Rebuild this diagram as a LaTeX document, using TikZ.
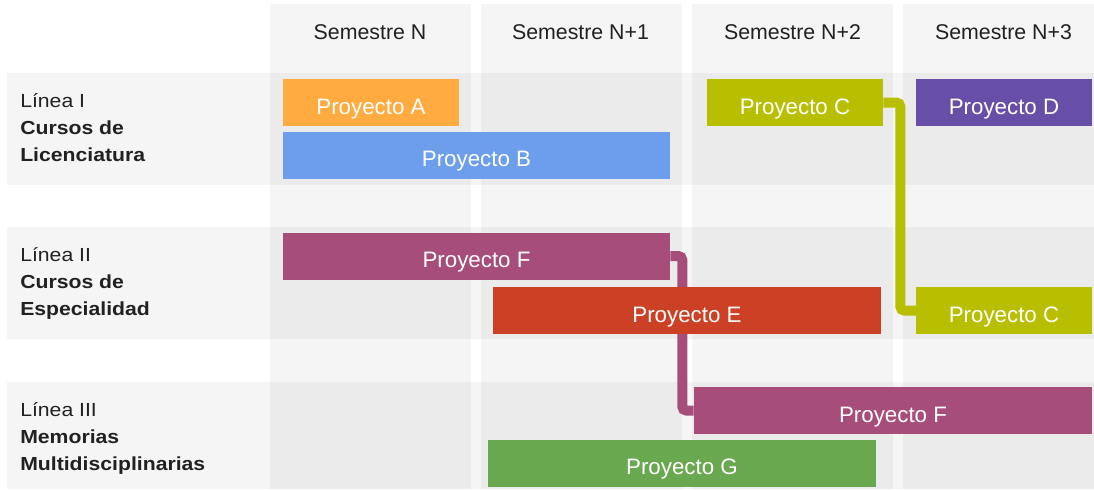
\documentclass[tikz,border=0pt]{standalone}
\usepackage{fontspec}
\setmainfont{Liberation Sans}
\newfontfamily\lineafont[FakeStretch=1.12]{Liberation Sans}
\usepackage{xcolor}
\usetikzlibrary{backgrounds, positioning}

\definecolor{projA}{HTML}{FFAB40}
\definecolor{projB}{HTML}{6D9EEB}
\definecolor{projC}{HTML}{B7BF00}
\definecolor{projD}{HTML}{674EA7}
\definecolor{projE}{HTML}{CC4125}
\definecolor{projF}{HTML}{A64D79}
\definecolor{projG}{HTML}{6AA84F}
\definecolor{inktext}{HTML}{212121}

\tikzset{
  bgband/.style={fill=black, fill opacity=0.04},
  head/.style={anchor=base, text=inktext, font=\fontsize{16}{19}\selectfont},
  linea/.style={anchor=base west, align=left, text=inktext, inner sep=0pt,
    font=\lineafont\fontsize{14.2}{20.25}\selectfont},
  bar/.style={rectangle, inner sep=0pt, minimum height=47*0.75pt, text=white,
    text height=17.25pt, text depth=0pt, font=\fontsize{16.75}{19}\selectfont},
  link/.style={line width=7.5pt, rounded corners=3pt},
}

\begin{document}
\begin{tikzpicture}[x=0.75pt, y=-0.75pt]
  \useasboundingbox (0,0) rectangle (1094,489);

  % cabecera
  \node[head] (semN)  at (370,39)    {Semestre N};
  \node[head] (semN1) at (580.5,39)  {Semestre N+1};
  \node[head] (semN2) at (792.5,39)  {Semestre N+2};
  \node[head] (semN3) at (1003.5,39) {Semestre N+3};

  % lineas (ancla en la ultima linea)
  \node[linea] (lin1) at (20,161) {Línea I\\\textbf{Cursos de}\\\textbf{Licenciatura}};
  \node[linea] (lin2) at (20,315) {Línea II\\\textbf{Cursos de}\\\textbf{Especialidad}};
  \node[linea] (lin3) at (20,470) {Línea III\\\textbf{Memorias}\\\textbf{Multidisciplinarias}};

  % proyectos
  \node[bar, fill=projA, minimum width=176*0.75pt] (projA)  at (371,102.5)  {Proyecto A};
  \node[bar, fill=projB, minimum width=387*0.75pt] (projB)  at (476.5,155)  {Proyecto B};
  \node[bar, fill=projC, minimum width=176*0.75pt] (projC1) at (795,102.5)  {Proyecto C};
  \node[bar, fill=projD, minimum width=176*0.75pt] (projD)  at (1004,102.5) {Proyecto D};
  \node[bar, fill=projF, minimum width=387*0.75pt] (projF1) at (476.5,256)  {Proyecto F};
  \node[bar, fill=projE, minimum width=388*0.75pt] (projE)  at (687,310.5)  {Proyecto E};
  \node[bar, fill=projC, minimum width=176*0.75pt] (projC2) at (1004,310.5) {Proyecto C};
  \node[bar, fill=projF, minimum width=398*0.75pt] (projF2) at (893,410.5)  {Proyecto F};
  \node[bar, fill=projG, minimum width=388*0.75pt] (projG)  at (682,463)    {Proyecto G};

  \begin{scope}[on background layer]
    \fill[white] (0,0) rectangle (1094,489);
    % columnas y filas
    \foreach \x in {270,480.5,692,903}
      \fill[bgband] (\x,4) rectangle ++(201,485);
    \foreach \y/\h in {73/112,227/112,382/107}
      \fill[bgband] (7,\y) rectangle ++(1087,\h);
    % continuaciones
    \draw[link, draw=projC] (projC1.east) -- ++(17,0) |- (projC2.west);
    \draw[link, draw=projF] (projF1.east) -- ++(12,0) |- (projF2.west);
  \end{scope}
\end{tikzpicture}
\end{document}
